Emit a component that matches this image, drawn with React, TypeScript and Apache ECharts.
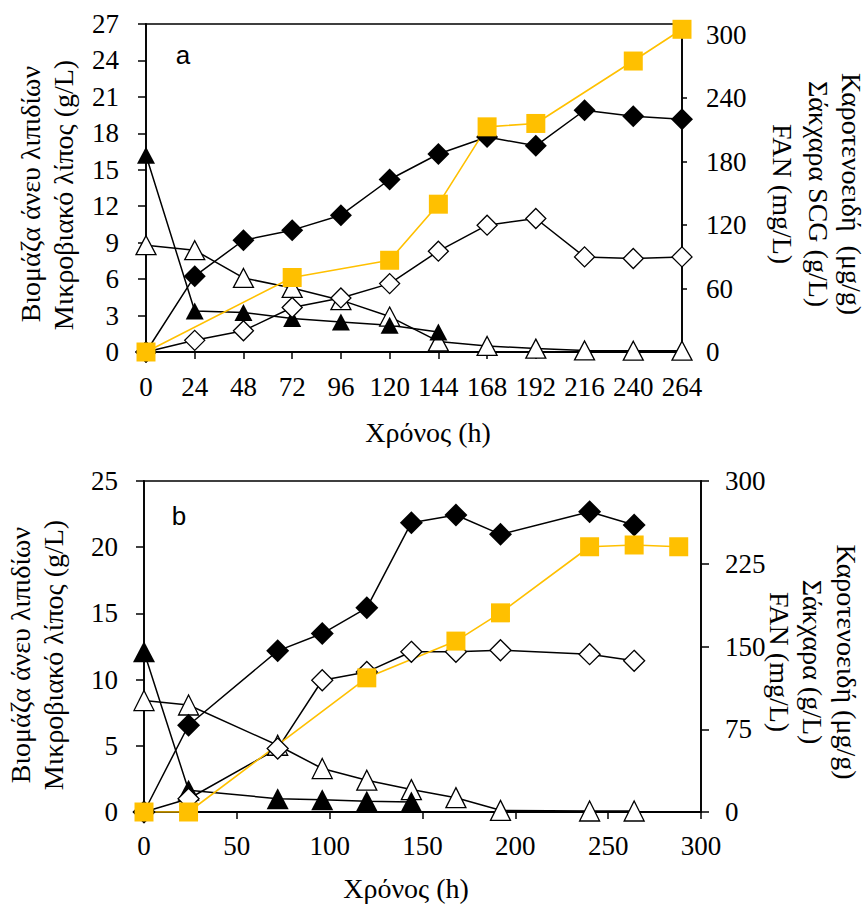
import React, { useEffect, useRef } from "react";
import * as echarts from "echarts";

// ---------- Panel a data ----------
const timesA = [0, 24, 48, 72, 96, 120, 144, 168, 192, 216, 240, 264];
const biomassA = [0, 6.24, 9.2, 10.03, 11.26, 14.2, 16.3, 17.7, 16.97, 19.9, 19.4, 19.15];
const lipidA = [0, 0.96, 1.75, 3.66, 4.45, 5.63, 8.3, 10.44, 10.99, 7.83, 7.7, 7.83];
const fanTimesA = [0, 24, 48, 72, 96, 120, 144];
const fanA = [186, 38.8, 37.3, 31.6, 28.4, 25.3, 18.9];
const sugarsA = [100.9, 96.2, 70, 60.5, 49, 33.5, 10, 5.7, 3.2, 1.5, 1.2, 1.2];
const carotTimesA = [0, 72, 120, 144, 168, 192, 240, 264];
const carotA = [0, 70.4, 86.7, 139.7, 212.8, 216, 275, 305];

// ---------- Panel b data ----------
const timesB = [0, 24, 72, 96, 120, 144, 168, 192, 240, 264];
const biomassB = [0, 6.55, 12.17, 13.48, 15.42, 21.85, 22.43, 20.97, 22.68, 21.67];
const lipidB = [0, 1.0, 4.79, 9.95, 10.58, 12.1, 12.1, 12.22, 11.92, 11.42];
const fanTimesB = [0, 24, 72, 96, 120, 144];
const fanB = [145.2, 19.7, 12.1, 11.2, 9.7, 9.1];
const sugarsB = [101, 97, 60.5, 39.4, 28.8, 20.3, 13.0, 1.5, 0.9, 0.9];
const carotTimesB = [0, 24, 120, 168, 192, 240, 264, 288];
const carotB = [0, 0, 121.6, 154.9, 180.5, 240.4, 242, 240.4];

// ---------- Axis ticks ----------
const rightTicksA = [0, 60, 120, 180, 240, 300];

const pairs = (xs: number[], ys: number[]) => xs.map((x, i) => [x, ys[i]]);

const SERIF = "Liberation Serif";
const YELLOW = "#FFC000";

function mkSeries(
  xi: number,
  yi: number,
  data: number[][],
  symbol: string,
  size: number | number[],
  kind: "filled" | "open" | "yellow"
) {
  const isYellow = kind === "yellow";
  return {
    type: "line",
    xAxisIndex: xi,
    yAxisIndex: yi,
    data,
    symbol,
    symbolSize: size,
    showAllSymbol: true,
    silent: true,
    lineStyle: { color: isYellow ? YELLOW : "#000", width: isYellow ? 1.6 : 1.5 },
    itemStyle:
      kind === "open"
        ? { color: "#fff", borderColor: "#000", borderWidth: 1.3 }
        : { color: isYellow ? YELLOW : "#000", borderWidth: 0 },
    emphasis: { disabled: true },
  };
}

function axisBase(extra: any) {
  return {
    type: "value",
    splitLine: { show: false },
    axisLine: { show: true, onZero: false, lineStyle: { color: "#000", width: 1.8 } },
    axisTick: { show: true, inside: false, length: 7, lineStyle: { color: "#000", width: 1.5 } },
    axisLabel: { color: "#000", fontFamily: SERIF, fontSize: 27 },
    ...extra,
  };
}

function vtext(text: string, x: number, y: number, rot: number) {
  return {
    type: "text",
    x,
    y,
    rotation: rot,
    silent: true,
    style: {
      text,
      fill: "#000",
      font: `28px "${SERIF}"`,
      align: "center",
      verticalAlign: "middle",
    },
  };
}

function htext(text: string, x: number, y: number, font: string) {
  return {
    type: "text",
    x,
    y,
    silent: true,
    style: { text, fill: "#000", font, align: "center", verticalAlign: "middle" },
  };
}

export default function App() {
  const ref = useRef<HTMLDivElement>(null);
  useEffect(() => {
    if (!ref.current) return;
    const chart = echarts.init(ref.current, undefined, { renderer: "svg" });
    const gridStyle = { show: true, borderColor: "#000", borderWidth: 1.3, backgroundColor: "transparent", containLabel: false };
    const option: any = {
      animation: false,
      backgroundColor: "#fff",
      grid: [
        { ...gridStyle, left: 146, top: 24, width: 536, height: 328 },
        { ...gridStyle, left: 144, top: 481, width: 557, height: 331 },
      ],
      xAxis: [
        axisBase({
          gridIndex: 0,
          min: 0,
          max: 264,
          interval: 24,
          position: "bottom",
          axisLabel: { color: "#000", fontFamily: SERIF, fontSize: 27, margin: 21 },
        }),
        axisBase({
          gridIndex: 1,
          min: 0,
          max: 300,
          interval: 50,
          position: "bottom",
          axisLabel: { color: "#000", fontFamily: SERIF, fontSize: 27, margin: 20 },
        }),
      ],
      yAxis: [
        axisBase({
          gridIndex: 0,
          min: 0,
          max: 27,
          interval: 3,
          position: "left",
          axisLabel: { color: "#000", fontFamily: SERIF, fontSize: 27, margin: 27 },
          axisTick: { show: true, inside: false, length: 8, lineStyle: { color: "#000", width: 1.5 } },
        }),
        axisBase({
          gridIndex: 0,
          min: 0,
          max: 310,
          interval: 60,
          position: "right",
          axisLabel: {
            color: "#000",
            fontFamily: SERIF,
            fontSize: 27,
            margin: 24,
            customValues: rightTicksA,
          },
          axisTick: {
            show: true,
            inside: false,
            length: 5,
            customValues: rightTicksA,
            lineStyle: { color: "#000", width: 1.5 },
          },
        }),
        axisBase({
          gridIndex: 1,
          min: 0,
          max: 25,
          interval: 5,
          position: "left",
          axisLabel: { color: "#000", fontFamily: SERIF, fontSize: 27, margin: 26 },
          axisTick: { show: true, inside: false, length: 8, lineStyle: { color: "#000", width: 1.5 } },
        }),
        axisBase({
          gridIndex: 1,
          min: 0,
          max: 300,
          interval: 75,
          position: "right",
          axisLabel: { color: "#000", fontFamily: SERIF, fontSize: 27, margin: 24 },
          axisTick: { show: true, inside: false, length: 8, lineStyle: { color: "#000", width: 1.5 } },
        }),
      ],
      series: [
        // panel a
        mkSeries(0, 1, pairs(timesA, sugarsA), "triangle", [20, 19], "open"),
        mkSeries(0, 1, pairs(fanTimesA, fanA), "triangle", [18, 17], "filled"),
        mkSeries(0, 0, pairs(timesA, lipidA), "diamond", 20, "open"),
        mkSeries(0, 0, pairs(timesA, biomassA), "diamond", 22, "filled"),
        mkSeries(0, 1, pairs(carotTimesA, carotA), "rect", 19, "yellow"),
        // panel b
        mkSeries(1, 3, pairs(timesB, sugarsB), "triangle", [20, 20], "open"),
        mkSeries(1, 3, pairs(fanTimesB, fanB), "triangle", [22, 21], "filled"),
        mkSeries(1, 2, pairs(timesB, lipidB), "diamond", 21, "open"),
        mkSeries(1, 2, pairs(timesB, biomassB), "diamond", 23, "filled"),
        mkSeries(1, 3, pairs(carotTimesB, carotB), "rect", 19, "yellow"),
      ],
      graphic: [
        // panel a titles
        vtext("Βιομάζα άνευ λιπιδίων", 30, 194, Math.PI / 2),
        vtext("Μικροβιακό λίπος (g/L)", 63, 195, Math.PI / 2),
        vtext("Καροτενοειδή  (μg/g)", 851, 194, -Math.PI / 2),
        vtext("Σάκχαρα SCG (g/L)", 818, 194, -Math.PI / 2),
        vtext("FAN (mg/L)", 782, 194, -Math.PI / 2),
        htext("Χρόνος (h)", 428, 432, `28px "${SERIF}"`),
        htext("a", 183, 55, `26px "Liberation Sans"`),
        // panel b titles
        vtext("Βιομάζα άνευ λιπιδίων", 20, 655, Math.PI / 2),
        vtext("Μικροβιακό λίπος (g/L)", 53, 655, Math.PI / 2),
        vtext("Καροτενοειδή (μg/g)", 846, 662, -Math.PI / 2),
        vtext("Σάκχαρα (g/L)", 812, 662, -Math.PI / 2),
        vtext("FAN (mg/L)", 779, 662, -Math.PI / 2),
        htext("Χρόνος (h)", 406, 888, `28px "${SERIF}"`),
        htext("b", 179, 516, `26px "Liberation Sans"`),
      ],
    };
    chart.setOption(option);
    return () => chart.dispose();
  }, []);
  return (
    <div
      ref={ref}
      style={{ position: "fixed", left: 0, top: 0, width: 866, height: 907, background: "#fff" }}
    />
  );
}
